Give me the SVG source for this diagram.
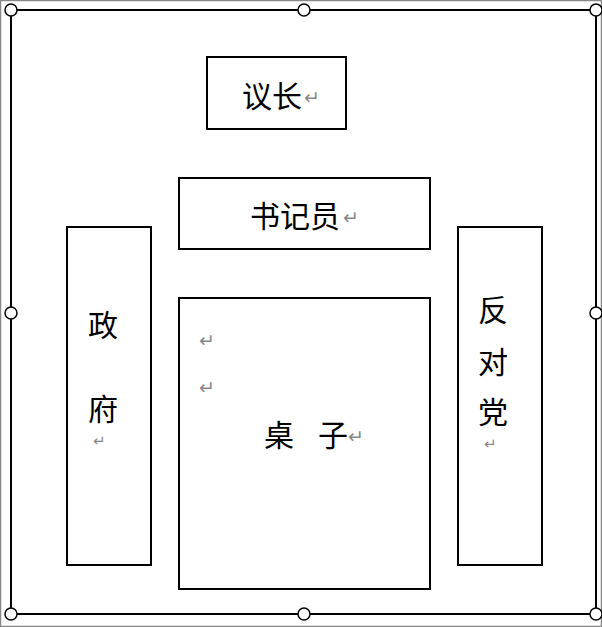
<svg xmlns="http://www.w3.org/2000/svg" width="602" height="627" viewBox="0 0 602 627">
<style>
.box{fill:#fff;stroke:#000;stroke-width:2}
.t{font-family:"Noto Sans CJK SC","Noto Sans CJK JP",sans-serif;font-size:30px;fill:#000}
.m{font-family:"DejaVu Sans",sans-serif;font-size:19px;fill:#888}
.s{font-family:"DejaVu Sans",sans-serif;font-size:15px;fill:#888}
.h{fill:#fff;stroke:#000;stroke-width:1.5}
</style>
<rect x="0.5" y="0.5" width="601" height="626" fill="#fff" stroke="#888" stroke-width="1.5"/>
<g id="canvas">
<rect x="11" y="10" width="585" height="604" fill="none" stroke="#000" stroke-width="2"/>
<circle class="h" cx="11" cy="10" r="6"/>
<circle class="h" cx="304" cy="10" r="6"/>
<circle class="h" cx="596" cy="10" r="6"/>
<circle class="h" cx="11" cy="313" r="6"/>
<circle class="h" cx="596" cy="313" r="6"/>
<circle class="h" cx="11" cy="614" r="6"/>
<circle class="h" cx="304" cy="614" r="6"/>
<circle class="h" cx="596" cy="614" r="6"/>
</g>
<g id="speaker">
<rect class="box" x="207" y="57" width="139" height="72"/>
<text class="t" x="242" y="107">议长</text>
<text class="m" x="304" y="104">↵</text>
</g>
<g id="clerk">
<rect class="box" x="179" y="178" width="251" height="71"/>
<text class="t" x="250" y="227">书记员</text>
<text class="m" x="343" y="224">↵</text>
</g>
<g id="government">
<rect class="box" x="67" y="227" width="84" height="338"/>
<text class="t" x="88" y="336">政</text>
<text class="t" x="88" y="420">府</text>
<text class="s" x="93" y="446">↵</text>
</g>
<g id="opposition">
<rect class="box" x="458" y="227" width="84" height="338"/>
<text class="t" x="478" y="321">反</text>
<text class="t" x="478" y="373">对</text>
<text class="t" x="478" y="423">党</text>
<text class="s" x="484" y="449">↵</text>
</g>
<g id="table">
<rect class="box" x="179" y="298" width="251" height="291"/>
<text class="m" x="199" y="347">↵</text>
<text class="m" x="199" y="394">↵</text>
<text class="t" x="264" y="446">桌</text>
<text class="t" x="318" y="446">子</text>
<text class="m" x="348" y="443">↵</text>
</g>
<g id="connectors"></g>
</svg>
